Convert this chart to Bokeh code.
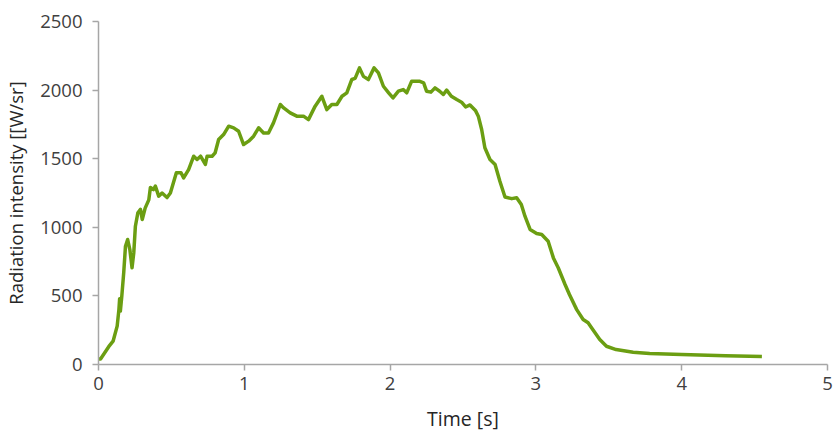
from bokeh.plotting import figure
from bokeh.embed import file_html
from bokeh.resources import INLINE
from bokeh.models import Range1d, FixedTicker

time_s = [0.0, 0.014, 0.07, 0.1, 0.128, 0.14, 0.145, 0.15, 0.16, 0.173, 0.185, 0.2, 0.215, 0.23, 0.242,
          0.253, 0.27, 0.288, 0.3, 0.32, 0.345, 0.356, 0.377, 0.39, 0.413, 0.436, 0.47, 0.493, 0.534,
          0.566, 0.584, 0.618, 0.653, 0.676, 0.7, 0.733, 0.745, 0.779, 0.8, 0.824, 0.858, 0.893, 0.927,
          0.961, 0.995, 1.03, 1.064, 1.098, 1.132, 1.166, 1.2, 1.247, 1.27, 1.315, 1.36, 1.406, 1.44,
          1.486, 1.532, 1.566, 1.6, 1.635, 1.67, 1.703, 1.737, 1.76, 1.79, 1.817, 1.851, 1.89, 1.92,
          1.954, 1.99, 2.02, 2.057, 2.09, 2.114, 2.148, 2.2, 2.23, 2.25, 2.28, 2.308, 2.34, 2.365,
          2.388, 2.42, 2.457, 2.49, 2.518, 2.548, 2.585, 2.605, 2.628, 2.65, 2.685, 2.72, 2.753, 2.788,
          2.834, 2.868, 2.9, 2.925, 2.96, 3.005, 3.04, 3.084, 3.12, 3.153, 3.2, 3.23, 3.28, 3.324,
          3.358, 3.39, 3.438, 3.484, 3.55, 3.667, 3.78, 4.0, 4.3, 4.55]
intensity = [40, 40, 130, 170, 280, 400, 480, 390, 500, 670, 862, 911, 838, 705, 815,
             1008, 1106, 1130, 1057, 1140, 1200, 1290, 1275, 1300, 1227, 1250, 1217, 1250, 1398,
             1398, 1360, 1420, 1518, 1494, 1518, 1458, 1518, 1518, 1543, 1640, 1676, 1737, 1725,
             1700, 1603, 1628, 1664, 1725, 1688, 1688, 1761, 1895, 1870, 1834, 1810, 1810, 1785,
             1883, 1955, 1858, 1895, 1895, 1955, 1980, 2077, 2085, 2162, 2100, 2077, 2162, 2125,
             2028, 1980, 1943, 1992, 2004, 1980, 2065, 2065, 2053, 1992, 1985, 2016, 1992, 1968,
             2000, 1955, 1931, 1912, 1877, 1892, 1852, 1810, 1713, 1580, 1494, 1458, 1336, 1221,
             1209, 1216, 1166, 1081, 984, 955, 947, 899, 777, 705, 583, 510, 400, 328,
             304, 255, 182, 133, 109, 90, 80, 72, 64, 58]

x_ticks = [0, 1, 2, 3, 4, 5]
y_ticks = [0, 500, 1000, 1500, 2000, 2500]

p = figure(width=833, height=435, output_backend="svg", toolbar_location=None,
           x_range=Range1d(0, 5), y_range=Range1d(0, 2500),
           min_border_left=97, min_border_right=6, min_border_top=21, min_border_bottom=71)
p.outline_line_color = None
p.grid.grid_line_color = None

p.line(time_s, intensity, line_color="#6B9E12", line_width=3.5, line_join="round")

font = "Open Sans"
for ax in (p.xaxis, p.yaxis):
    ax.axis_line_color = "#A6A6A6"
    ax.axis_line_width = 1.5
    ax.major_tick_line_color = "#A6A6A6"
    ax.major_tick_line_width = 1.5
    ax.major_tick_out = 6
    ax.major_tick_in = 0
    ax.minor_tick_line_color = None
    ax.major_label_text_font = font
    ax.major_label_text_font_size = "18.5px"
    ax.major_label_text_color = "#404040"
    ax.axis_label_text_font = font
    ax.axis_label_text_font_style = "normal"
    ax.axis_label_text_color = "#262626"

p.xaxis.axis_label_text_font_size = "19.5px"
p.yaxis.axis_label_text_font_size = "18.5px"
p.xaxis.ticker = FixedTicker(ticks=x_ticks)
p.yaxis.ticker = FixedTicker(ticks=y_ticks)
p.xaxis.axis_label = "Time [s]"
p.yaxis.axis_label = "Radiation intensity [[W/sr]"
p.xaxis.major_label_standoff = 6
p.yaxis.major_label_standoff = 10
p.xaxis.axis_label_standoff = 12
p.yaxis.axis_label_standoff = 9

open("out.html", "w").write(file_html(p, INLINE))
